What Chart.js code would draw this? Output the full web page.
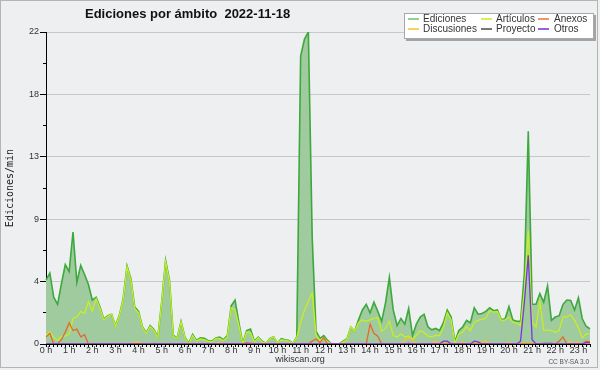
<!DOCTYPE html>
<html>
<head>
<meta charset="utf-8">
<script src="https://cdn.jsdelivr.net/npm/chart.js@4.4.0/dist/chart.umd.min.js"></script>
<style>
  html, body { margin: 0; padding: 0; background: #fff; }
  #frame { position: relative; width: 600px; height: 370px; background: #eeeff1; overflow: hidden; }
  #frame canvas { position: absolute; left: 0; top: 0; }
  .edge { position: absolute; left: 0; top: 0; width: 596px; height: 366px; border: 1px solid #b4b4b4; pointer-events: none; }
  #title { position: absolute; left: 85px; top: 7px; font: bold 13px 'Liberation Sans', sans-serif; line-height: 13px; color: #111; white-space: pre; }
  #legendBox { position: absolute; left: 404px; top: 13px; width: 188px; height: 24px; background: #fff; border: 1px solid #a8a8a8; box-shadow: 2px 2px 0 #a4a4a4; }
  .lg-line { position: absolute; height: 0; width: 11px; border-top: 2px solid; }
  .lg-text { position: absolute; font: 10px 'Liberation Sans', sans-serif; line-height: 10px; color: #333; white-space: nowrap; }
  #site { position: absolute; left: 0; width: 600px; top: 355px; text-align: center; font: 9px 'Liberation Sans', sans-serif; line-height: 9px; color: #333; }
  #lic { position: absolute; right: 11px; top: 359px; font: 6.5px 'Liberation Sans', sans-serif; line-height: 6.5px; color: #555; }
</style>
</head>
<body>
<div id="frame">
  <canvas id="c" width="600" height="370"></canvas>
  <div id="title">Ediciones por ámbito  2022-11-18</div>
  <div id="legendBox"></div>
  <div id="site">wikiscan.org</div>
  <div id="lic">CC BY-SA 3.0</div>
  <div class="edge"></div>
</div>
<script>
// 10-minute slots, 00:00 .. 23:30
const hourLabels = ['0 h','1 h','2 h','3 h','4 h','5 h','6 h','7 h','8 h','9 h','10 h','11 h',
                    '12 h','13 h','14 h','15 h','16 h','17 h','18 h','19 h','20 h','21 h','22 h','23 h'];
const minuteMarks = ['00','10','20','30','40','50'];

// one row per hour
const ediciones = [
  4.5, 5.0, 3.3, 2.8, 4.25, 5.6,
  5.1, 7.9, 4.35, 5.55, 4.9, 4.2,
  3.1, 3.3, 2.6, 1.75, 2.0, 2.1,
  1.3, 2.0, 3.2, 5.5, 4.6, 2.6,
  2.3, 1.2, 0.8, 1.3, 1.0, 0.5,
  3.0, 5.9, 4.5, 0.6, 0.43, 1.6,
  0.5, 0.05, 0.67, 0.25, 0.43, 0.4,
  0.25, 0.2, 0.43, 0.48, 0.3, 0.6,
  2.7, 3.1, 1.5, 0.05, 0.95, 1.05,
  0.2, 0.48, 0.2, 0.05, 0.37, 0.5,
  0.05, 0.37, 0.3, 0.25, 0.05, 0.5,
  20.3, 21.5, 22, 7.5, 0.9, 0.4,
  0.6, 0.25, 0, 0, 0, 0.2,
  0.35, 1.2, 0.9, 1.7, 2.4, 2.8,
  2.2, 2.95, 2.3, 1.6, 2.9, 4.7,
  2.4, 1.3, 1.8, 1.4, 2.5, 0.6,
  1.4, 1.9, 2.1, 1.2, 1.0, 1.1,
  0.95, 1.5, 2.4, 1.9, 0.15, 0.95,
  1.2, 1.66, 1.5, 2.55, 2.1, 2.15,
  2.3, 2.55, 2.35, 2.4, 1.7, 1.78,
  2.65, 1.7, 1.6, 1.6, 5.0, 15.0,
  2.8, 2.8, 3.55, 2.95, 4.1, 1.66,
  1.9, 2.0, 2.8, 3.1, 3.07, 2.4,
  3.26, 1.78, 1.25, 1.07
];
const articulos = [
  0.6, 0.85, 0.45, 0.25, 0.55, 0.55,
  0.7, 1.8, 1.9, 2.3, 2.15, 3.0,
  2.3, 3.2, 2.5, 1.7, 1.95, 2.1,
  1.25, 1.95, 3.15, 5.45, 4.5, 2.5,
  2.2, 1.15, 0.75, 1.25, 0.95, 0.45,
  2.95, 5.8, 4.4, 0.55, 0.4, 1.55,
  0.45, 0, 0.6, 0.2, 0.35, 0.3,
  0.2, 0.15, 0.4, 0.4, 0.25, 0.5,
  2.55, 2.4, 1.3, 0, 0.85, 0.8,
  0.15, 0.45, 0.15, 0.05, 0.35, 0.5,
  0.05, 0.3, 0.25, 0.2, 0.05, 0.45,
  1.5, 2.4, 3.0, 3.6, 0.65, 0.25,
  0.45, 0.15, 0, 0, 0, 0.15,
  0.3, 1.2, 0.9, 1.5, 1.7, 1.6,
  1.7, 1.8, 1.85, 0.9, 1.1, 1.6,
  0.6, 0.5, 0.7, 0.5, 0.55, 0.35,
  0.6, 0.95, 0.8, 0.55, 0.5, 0.6,
  0.6, 1.2, 2.2, 1.7, 0.05, 0.72,
  0.83, 1.23, 0.95, 1.54, 1.66, 1.73,
  1.82, 2.36, 2.25, 2.3, 1.66, 1.7,
  1.9, 1.54, 1.47, 1.3, 3.8, 8.0,
  1.5, 1.2, 3.0, 0.95, 1.0, 0.95,
  0.83, 0.95, 1.9, 1.9, 2.06, 1.66,
  1.14, 0.43, 0.72, 0.72
];
const anexos = [
  0.5, 0.75, 0, 0, 0.3, 0.85,
  1.5, 0.95, 1.05, 0.5, 0.65, 0,
  0, 0, 0, 0, 0, 0,
  0, 0, 0, 0, 0, 0,
  0, 0, 0, 0, 0.05, 0,
  0, 0, 0, 0, 0, 0,
  0, 0, 0, 0, 0, 0,
  0, 0, 0, 0, 0, 0,
  0, 0, 0, 0, 0.1, 0.05,
  0, 0, 0, 0, 0, 0,
  0, 0, 0, 0, 0, 0,
  0, 0, 0, 0.2, 0.35, 0.1,
  0.45, 0, 0, 0, 0, 0,
  0, 0, 0, 0, 0, 0,
  1.4, 0.75, 0.55, 0, 0, 0,
  0, 0, 0, 0, 0, 0,
  0, 0, 0, 0, 0, 0,
  0, 0, 0, 0, 0, 0,
  0, 0, 0, 0, 0, 0,
  0, 0, 0, 0, 0, 0,
  0, 0, 0, 0, 0, 0,
  0, 0, 0, 0, 0, 0,
  0, 0.2, 0.5, 0, 0, 0,
  0, 0, 0.2, 0.15
];
const discusiones = [
  0, 0, 0, 0, 0, 0,
  0, 0, 0, 0, 0, 0,
  0, 0, 0, 0, 0, 0,
  0, 0, 0, 0, 0, 0.1,
  0.15, 0, 0, 0, 0, 0,
  0, 0, 0, 0, 0, 0,
  0, 0, 0, 0, 0, 0,
  0, 0, 0, 0.15, 0, 0,
  0, 0, 0, 0, 0.1, 0,
  0, 0, 0, 0, 0, 0,
  0, 0, 0, 0, 0, 0,
  0, 0, 0, 0, 0, 0,
  0, 0, 0, 0, 0, 0,
  0, 0, 0, 0, 0, 0,
  0, 0, 0, 0, 0, 0,
  0, 0, 0, 0.3, 0.45, 0.3,
  0, 0, 0, 0, 0, 0.2,
  0, 0, 0, 0, 0, 0,
  0.15, 0, 0, 0, 0, 0.1,
  0.25, 0, 0, 0, 0, 0,
  0.15, 0, 0, 0, 0, 0,
  0, 0, 0, 0, 0, 0,
  0, 0, 0, 0, 0.2, 0,
  0.15, 0, 0, 0
];
const proyecto = [
  0, 0, 0, 0, 0, 0,
  0, 0, 0, 0, 0, 0,
  0, 0, 0, 0, 0, 0,
  0, 0, 0, 0, 0, 0,
  0, 0, 0, 0, 0, 0,
  0, 0, 0, 0, 0, 0,
  0, 0, 0, 0, 0, 0,
  0, 0, 0, 0, 0, 0,
  0, 0, 0, 0, 0, 0,
  0, 0, 0, 0, 0, 0,
  0, 0, 0, 0, 0, 0,
  0, 0, 0, 0, 0, 0,
  0, 0, 0, 0, 0, 0,
  0, 0, 0, 0, 0, 0,
  0, 0, 0, 0, 0, 0,
  0, 0, 0, 0, 0.05, 0,
  0, 0, 0, 0, 0, 0,
  0, 0, 0, 0, 0, 0,
  0, 0, 0, 0, 0, 0,
  0, 0, 0, 0, 0, 0,
  0, 0, 0, 0, 0, 0,
  0, 0, 0, 0.05, 0.05, 0.05,
  0, 0, 0, 0, 0, 0,
  0, 0, 0.1, 0
];
const otros = [
  0, 0, 0, 0, 0, 0,
  0, 0, 0, 0, 0, 0,
  0, 0, 0, 0, 0, 0,
  0, 0, 0, 0, 0, 0,
  0, 0, 0, 0, 0, 0,
  0, 0, 0, 0, 0, 0,
  0, 0, 0, 0, 0, 0,
  0, 0, 0, 0, 0, 0,
  0, 0, 0, 0, 0, 0,
  0, 0, 0, 0, 0, 0,
  0, 0, 0, 0, 0, 0,
  0, 0, 0, 0, 0, 0,
  0, 0, 0, 0, 0, 0,
  0, 0, 0, 0, 0, 0,
  0, 0, 0, 0, 0, 0,
  0, 0, 0, 0, 0, 0,
  0, 0, 0, 0, 0, 0,
  0, 0.2, 0.2, 0, 0, 0,
  0, 0, 0, 0.2, 0.15, 0,
  0, 0, 0, 0, 0, 0,
  0, 0, 0, 0.2, 3.0, 6.25,
  0.3, 0, 0, 0, 0, 0,
  0, 0, 0, 0, 0, 0,
  0, 0, 0.1, 0.1
];

const seriesNames  = ['Ediciones', 'Artículos', 'Anexos', 'Discusiones', 'Proyecto', 'Otros'];
const seriesData   = [ediciones, articulos, anexos, discusiones, proyecto, otros];
const seriesColors = ['#3da83d', '#c6ef22', '#e8672c', '#f4c430', '#555555', '#7a33e6'];
const legendColors = ['#8ed48e', '#d2f060', '#f2946a', '#f6d35a', '#777777', '#9560f0'];
const seriesOrder  = [5, 4, 1, 2, 3, 0];   // lower = drawn on top

const slots = [];
hourLabels.forEach((h, i) => minuteMarks.forEach(m => slots.push(i + ':' + m)));
slots.length = ediciones.length;

// legend, 3 columns x 2 rows like the original
const box = document.getElementById('frame');
const edge = document.querySelector('.edge');
const colLine = [408, 481, 538], colText = [423, 496, 554];
const rowLine = [18, 28], rowText = [14, 24];
seriesNames.forEach((name, i) => {
  const col = i % 3, row = Math.floor(i / 3);
  const ln = document.createElement('div');
  ln.className = 'lg-line';
  ln.style.left = colLine[col] + 'px';
  ln.style.top = rowLine[row] + 'px';
  ln.style.borderTopColor = legendColors[i];
  const tx = document.createElement('div');
  tx.className = 'lg-text';
  tx.style.left = colText[col] + 'px';
  tx.style.top = rowText[row] + 'px';
  tx.textContent = name;
  box.insertBefore(ln, edge);
  box.insertBefore(tx, edge);
});

const tickFont = { family: 'Liberation Sans', size: 9, lineHeight: 1 };

new Chart(document.getElementById('c'), {
  type: 'line',
  data: {
    labels: slots,
    datasets: seriesData.map((d, i) => ({
      label: seriesNames[i],
      data: d,
      borderColor: seriesColors[i],
      backgroundColor: i === 0 ? '#9fcb9f' : seriesColors[i],
      fill: i === 0 ? 'origin' : false,
      borderWidth: i === 0 ? 1.6 : 1.3,
      order: seriesOrder[i],
      pointRadius: 0,
      tension: 0,
    })),
  },
  options: {
    responsive: false, animation: false, devicePixelRatio: 1,
    layout: { padding: { top: 32, right: 10, left: 0, bottom: 0 } },
    plugins: { legend: { display: false }, tooltip: { enabled: false } },
    scales: {
      x: {
        z: 1,
        ticks: {
          autoSkip: false, maxRotation: 0, minRotation: 0, padding: -1,
          color: '#333', font: tickFont,
          callback: (v, i) => i % 6 === 0 ? hourLabels[i / 6] : '',
        },
        grid: { drawOnChartArea: false, tickLength: 3, tickColor: '#000' },
        border: { color: '#000' },
        afterFit: s => { s.height = 26; },
      },
      y: {
        z: 1, min: 0, max: 22,
        ticks: {
          stepSize: 2.2, padding: 1, color: '#333', font: tickFont,
          callback: (v, i) => i % 2 ? '' : Math.round(v),
        },
        grid: {
          color: c => (c.index % 2 || c.index === 0) ? 'rgba(0,0,0,0)' : '#c8c8c8',
          tickColor: '#000', tickLength: 6,
          tickBorderDash: c => c.index % 2 ? [3, 3] : [],
          tickBorderDashOffset: 3,
        },
        border: { color: '#000' },
        title: {
          display: true, text: 'Ediciones/min', color: '#222',
          font: { family: 'DejaVu Sans Mono', size: 10 },
          padding: { top: 4, bottom: 0 },
        },
        afterFit: s => { s.width = 46; },
      },
    },
  },
});
</script>
</body>
</html>
